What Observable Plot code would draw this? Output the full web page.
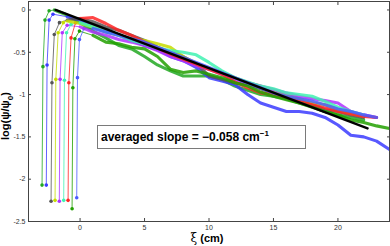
<!DOCTYPE html>
<html><head><meta charset="utf-8">
<script src="https://cdn.jsdelivr.net/npm/d3@7"></script>
<script src="https://cdn.jsdelivr.net/npm/@observablehq/plot@0.6"></script>
<style>
html,body{margin:0;padding:0;background:#fff;}
#wrap{position:relative;width:390px;height:246px;font-family:"Liberation Sans",Arial,Helvetica,sans-serif;}
#ylab{position:absolute;left:7px;top:116px;transform:translate(-50%,-50%) rotate(-90deg);font-weight:bold;font-size:11px;white-space:nowrap;color:#000;}
#xlab{position:absolute;left:207px;top:238px;transform:translate(-50%,-50%);font-weight:bold;font-size:11px;white-space:nowrap;color:#000;}
#xlab .xi{font-family:"DejaVu Serif","Liberation Serif",serif;font-weight:normal;font-size:12px;}
#note{position:absolute;left:97px;top:125px;width:204px;height:22px;border:1px solid #7a7a7a;background:#fff;box-sizing:content-box;font-weight:bold;font-size:12px;line-height:22px;padding-left:3px;white-space:nowrap;color:#000;}
#note sup{font-size:8px;vertical-align:5px;line-height:0;}
</style></head>
<body>
<div id="wrap">
<div id="ylab">log(ψ/ψ<sub style="font-size:8px">0</sub>)</div>
<div id="xlab"><span class="xi">ξ</span> (cm)</div>
<div id="note">averaged slope = −0.058 cm<sup>−1</sup></div>
</div>
<script>
// axis ticks
const xTicks = [0, 5, 10, 15, 20];
const yTicks = [0, -0.5, -1, -1.5, -2, -2.5];

// series: head (drop-off points), body on 1-cm grid starting at bodyStart
const seriesNames = ["g1","b1","gray","yel","pur","cyan","red","g2","b2"];
const seriesColors = ["#22a822","#3b3bff","#555555","#c6dc00","#b032ff","#3ff2b2","#ff2424","#22a000","#4a5cff"];

const g1HeadX = [-2.95,-2.88,-2.72,-2.4];   const g1HeadY = [-2.07,-0.67,-0.12,-0.01];
const g1Start = -2;
const g1Body = [0.0,-0.06,-0.15,-0.25,-0.33,-0.42,-0.46,-0.55,-0.65,-0.72,-0.78,-0.78,-0.78,-0.82,-0.9,-0.95,-1.0,-1.02,-1.05,-1.1,-1.14,-1.2,-1.24,-1.27,-1.3];

const b1HeadX = [-2.62,-2.56,-2.4,-2.1];    const b1HeadY = [-2.07,-0.65,-0.12,-0.05];
const b1Start = -1;
const b1Body = [-0.08,-0.12,-0.18,-0.24,-0.3,-0.36,-0.42,-0.47,-0.55,-0.6,-0.68,-0.8,-0.84,-0.88,-1.0,-1.1,-1.15,-1.2,-1.2,-1.22,-1.27,-1.36,-1.48,-1.5,-1.55,-1.65];

const grayHeadX = [-2.25,-2.18,-2.0,-1.6];  const grayHeadY = [-2.26,-0.86,-0.29,-0.15];
const grayStart = -1;
const grayBody = [-0.12,-0.1,-0.14,-0.2,-0.24,-0.3,-0.36,-0.44,-0.5,-0.55,-0.63,-0.78,-0.82,-0.86,-0.88,-0.93,-0.98,-1.03,-1.06,-1.12,-1.18,-1.2,-1.24,-1.27];

const yelHeadX = [-1.94,-1.88,-1.7,-1.3];   const yelHeadY = [-2.25,-0.82,-0.27,-0.15];
const yelStart = -1;
const yelBody = [-0.13,-0.16,-0.2,-0.26,-0.3,-0.34,-0.36,-0.4,-0.44,-0.55,-0.64,-0.7,-0.74,-0.8,-0.86,-0.9,-0.95,-1.0,-1.05,-1.1,-1.12,-1.18,-1.22,-1.25];

const purHeadX = [-1.61,-1.55,-1.38,-1.0];  const purHeadY = [-2.26,-0.82,-0.27,-0.18];
const purStart = 0;
const purBody = [-0.2,-0.26,-0.3,-0.35,-0.38,-0.42,-0.48,-0.55,-0.6,-0.66,-0.7,-0.76,-0.82,-0.86,-0.9,-0.94,-0.98,-1.02,-1.05,-1.07,-1.1,-1.2,-1.24,-1.27];

const cyanHeadX = [-1.27,-1.21,-1.05,-0.7]; const cyanHeadY = [-2.25,-0.83,-0.27,-0.17];
const cyanStart = 0;
const cyanBody = [-0.15,-0.2,-0.26,-0.3,-0.36,-0.4,-0.45,-0.48,-0.5,-0.53,-0.62,-0.72,-0.8,-0.85,-0.9,-0.93,-0.98,-1.0,-1.02,-1.08,-1.15,-1.2,-1.24];

const redHeadX = [-0.93,-0.87,-0.7,-0.35];  const redHeadY = [-2.25,-0.86,-0.33,-0.15];
const redStart = 0;
const redBody = [-0.1,-0.09,-0.16,-0.24,-0.3,-0.38,-0.45,-0.52,-0.58,-0.64,-0.7,-0.76,-0.85,-0.92,-0.98,-1.0,-1.04,-1.08,-1.12,-1.16,-1.2,-1.23,-1.26,-1.27];

const g2HeadX = [-0.62,-0.56,-0.4,-0.05];   const g2HeadY = [-2.35,-0.92,-0.34,-0.25];
const g2Start = 1;
const g2Body = [-0.3,-0.38,-0.4,-0.44,-0.46,-0.55,-0.7,-0.74,-0.72,-0.76,-0.8,-0.86,-0.9,-0.97,-1.02,-1.06,-1.1,-1.15,-1.2,-1.24,-1.3,-1.33,-1.37,-1.4];

const b2HeadX = [-0.26,-0.2,-0.05,0.3];     const b2HeadY = [-2.22,-0.8,-0.35,-0.22];
const b2Start = 1;
const b2Body = [-0.22,-0.26,-0.3,-0.34,-0.38,-0.44,-0.5,-0.56,-0.62,-0.68,-0.74,-0.8,-0.86,-0.92,-0.98,-1.02,-1.05,-1.08,-1.12,-1.17,-1.2,-1.24,-1.27];

// averaged fit line
const fitX = [-1.9, 22.3];
const fitY = [0, -1.40];

const heads = [[g1HeadX,g1HeadY],[b1HeadX,b1HeadY],[grayHeadX,grayHeadY],[yelHeadX,yelHeadY],[purHeadX,purHeadY],[cyanHeadX,cyanHeadY],[redHeadX,redHeadY],[g2HeadX,g2HeadY],[b2HeadX,b2HeadY]];
const bodies = [[g1Start,g1Body],[b1Start,b1Body],[grayStart,grayBody],[yelStart,yelBody],[purStart,purBody],[cyanStart,cyanBody],[redStart,redBody],[g2Start,g2Body],[b2Start,b2Body]];

const headRows = [], bodyRows = [], rampRows = [];
seriesNames.forEach((s, i) => {
  const [hx, hy] = heads[i];
  const [st, by] = bodies[i];
  hx.forEach((x, j) => { headRows.push({s, c: seriesColors[i], x, y: hy[j]}); rampRows.push({s, c: seriesColors[i], x, y: hy[j]}); });
  rampRows.push({s, c: seriesColors[i], x: st, y: by[0]});
  by.forEach((y, j) => bodyRows.push({s, c: seriesColors[i], x: st + j, y}));
});
const fitRows = fitX.map((x, i) => ({x, y: fitY[i]}));

const fmt = d => String(d);
const font = {fontSize: 7, fill: "#333"};

const chart = Plot.plot({
  width: 390, height: 246,
  marginLeft: 28, marginRight: 1, marginTop: 1, marginBottom: 25,
  style: {fontFamily: "'Liberation Sans', Arial, Helvetica, sans-serif", background: "transparent"},
  x: {domain: [-4, 24]},
  y: {domain: [-2.5, 0.1]},
  color: {type: "identity"},
  marks: [
    Plot.line(rampRows, {x: "x", y: "y", z: "s", stroke: "c", strokeWidth: 0.8}),
    Plot.dot(headRows, {x: "x", y: "y", fill: "c", r: 1.8}),
    Plot.line(bodyRows, {x: "x", y: "y", z: "s", stroke: "c", strokeWidth: 3.1, strokeOpacity: 0.85, strokeLinejoin: "round"}),
    Plot.line(fitRows, {x: "x", y: "y", stroke: "#000", strokeWidth: 2.4}),
    Plot.frame({stroke: "#444", strokeWidth: 1}),
    Plot.axisX({ticks: xTicks, anchor: "bottom", tickSize: 0, tickPadding: 4, tickFormat: fmt, label: null, ...font}),
    Plot.axisX({ticks: xTicks, anchor: "bottom", tickSize: -3, tickFormat: () => "", label: null, stroke: "#444"}),
    Plot.axisX({ticks: xTicks, anchor: "top", tickSize: -3, tickFormat: () => "", label: null, stroke: "#444"}),
    Plot.axisY({ticks: yTicks, anchor: "left", tickSize: 0, tickPadding: 3, tickFormat: fmt, label: null, ...font}),
    Plot.axisY({ticks: yTicks, anchor: "left", tickSize: -3, tickFormat: () => "", label: null, stroke: "#444"}),
    Plot.axisY({ticks: yTicks, anchor: "right", tickSize: -3, tickFormat: () => "", label: null, stroke: "#444"})
  ]
});
chart.style.position = "absolute";
chart.style.left = "0px";
chart.style.top = "0px";
const wrap = document.getElementById("wrap");
wrap.insertBefore(chart, wrap.firstChild);
</script>
</body></html>
